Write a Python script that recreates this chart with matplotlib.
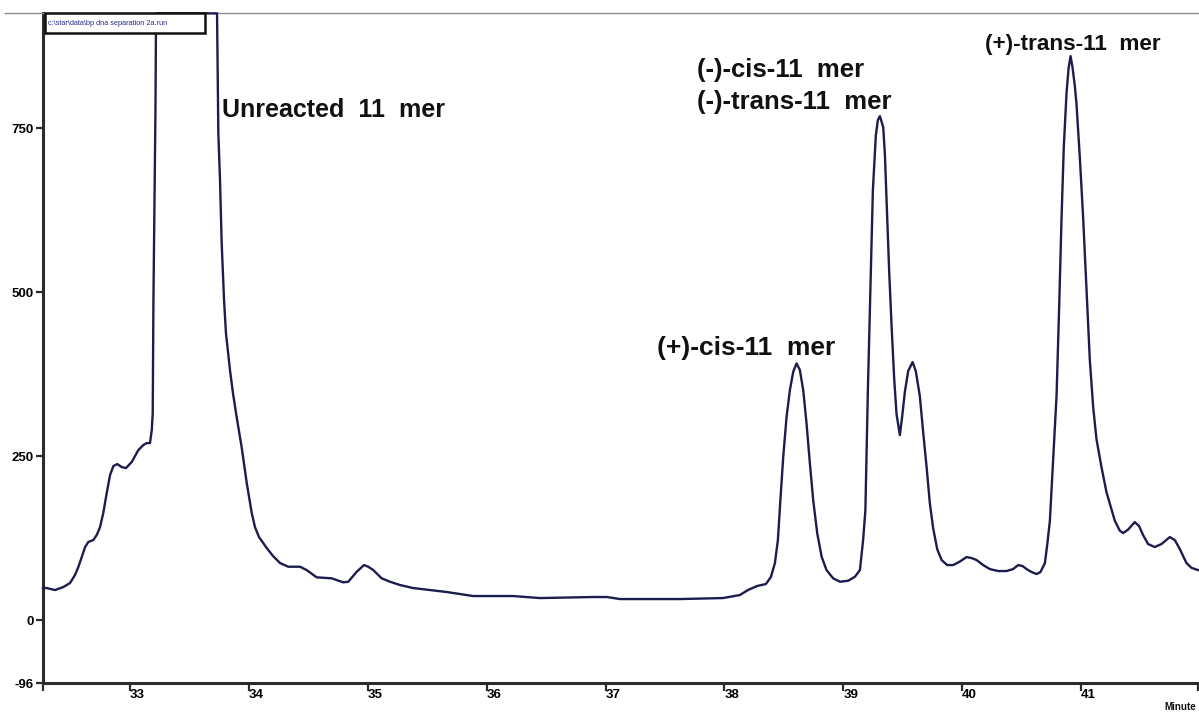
import matplotlib
matplotlib.use("Agg")
import numpy as np
from matplotlib import pyplot as plt
from matplotlib.patches import Rectangle
from matplotlib.lines import Line2D

plt.rcParams['font.family'] = ['Liberation Sans', 'DejaVu Sans']

# chromatogram trace (minutes, detector response)
# the big peak at 33.2-33.7 is off scale, it sits on the top border
minutes = [32.268, 32.299, 32.369, 32.439, 32.495, 32.537, 32.565, 32.594, 32.622, 32.649,
           32.691, 32.720, 32.748, 32.775, 32.804, 32.832, 32.860, 32.893, 32.930, 32.966,
           33.014, 33.070, 33.112, 33.140, 33.168, 33.183, 33.191, 33.193, 33.197, 33.214,
           33.219, 33.732, 33.743, 33.757, 33.771, 33.791, 33.807, 33.841, 33.866, 33.897,
           33.939, 33.982, 34.024, 34.051, 34.085, 34.150, 34.203, 34.262, 34.331, 34.430,
           34.486, 34.570, 34.696, 34.738, 34.794, 34.836, 34.907, 34.968, 35.004, 35.046,
           35.117, 35.187, 35.271, 35.380, 35.523, 35.666, 35.885, 36.221, 36.448, 36.894,
           37.012, 37.121, 37.626, 37.987, 38.130, 38.198, 38.273, 38.349, 38.391, 38.425,
           38.450, 38.471, 38.495, 38.523, 38.551, 38.579, 38.607, 38.635, 38.663, 38.691,
           38.719, 38.747, 38.781, 38.818, 38.859, 38.915, 38.972, 39.041, 39.098, 39.140,
           39.167, 39.186, 39.207, 39.228, 39.249, 39.274, 39.291, 39.308, 39.336, 39.350,
           39.364, 39.386, 39.406, 39.428, 39.448, 39.476, 39.495, 39.518, 39.546, 39.583,
           39.610, 39.644, 39.672, 39.701, 39.728, 39.756, 39.790, 39.827, 39.874, 39.924,
           39.981, 40.037, 40.079, 40.121, 40.177, 40.233, 40.303, 40.373, 40.429, 40.471,
           40.508, 40.542, 40.584, 40.626, 40.659, 40.696, 40.715, 40.738, 40.765, 40.794,
           40.816, 40.836, 40.855, 40.878, 40.895, 40.912, 40.928, 40.948, 40.962, 40.990,
           41.018, 41.046, 41.074, 41.102, 41.130, 41.172, 41.214, 41.284, 41.326, 41.354,
           41.396, 41.452, 41.488, 41.522, 41.564, 41.620, 41.677, 41.747, 41.789, 41.831,
           41.887, 41.929, 41.984]
response = [48.8, 48.8, 45.7, 50.3, 56.4, 68.6, 80.8, 96.0, 111.3, 118.9,
            122.0, 129.6, 141.8, 163.1, 193.6, 221.0, 234.8, 237.8, 233.2, 231.7,
            240.9, 259.1, 266.8, 269.8, 269.8, 289.6, 315.5, 366.0, 488.0, 777.0,
            925.0, 925.0, 742.0, 670.7, 574.7, 487.8, 437.5, 381.1, 346.0, 309.5,
            263.7, 208.8, 163.1, 141.8, 126.5, 109.8, 97.6, 86.9, 81.3, 81.3,
            76.2, 65.1, 63.6, 61.0, 57.5, 58.4, 73.6, 83.8, 81.3, 76.2,
            63.6, 58.4, 53.4, 48.8, 45.7, 42.7, 36.6, 36.6, 33.5, 35.1,
            35.1, 32.0, 32.0, 33.5, 38.1, 45.7, 51.8, 54.9, 65.5, 86.9,
            122.0, 182.9, 248.9, 309.9, 350.6, 378.5, 391.3, 381.1, 350.6, 299.8,
            238.9, 182.9, 132.2, 96.5, 76.2, 63.6, 58.4, 59.9, 66.0, 76.2,
            122.0, 167.7, 350.6, 502.3, 655.5, 739.3, 762.2, 768.3, 751.5, 710.4,
            640.2, 532.0, 449.7, 368.9, 314.0, 282.0, 309.5, 347.6, 379.6, 393.3,
            379.6, 341.5, 286.6, 233.2, 178.4, 140.2, 108.2, 91.5, 83.8, 83.8,
            89.2, 96.0, 94.5, 91.5, 83.8, 77.7, 74.7, 74.7, 77.7, 83.8,
            82.3, 77.7, 73.2, 70.1, 73.2, 86.9, 113.6, 151.5, 243.9, 341.5,
            477.1, 612.8, 721.0, 803.4, 840.9, 859.8, 843.4, 814.0, 786.6, 705.0,
            612.8, 504.6, 396.3, 325.0, 275.9, 233.2, 195.1, 151.5, 136.3, 132.6,
            137.9, 149.4, 143.3, 129.6, 115.9, 111.3, 115.9, 126.5, 121.9, 108.2,
            86.9, 79.6, 76.2]

x_ticks = [33, 34, 35, 36, 37, 38, 39, 40, 41]
y_ticks = [-96, 0, 250, 500, 750]
x_range = (32.268, 41.984)
y_range = (-96, 926)

peak_labels = ["Unreacted  11  mer", "(-)-cis-11  mer", "(-)-trans-11  mer",
               "(+)-trans-11  mer", "(+)-cis-11  mer"]
label_pos = [(33.774, 777), (37.769, 838), (37.769, 790), (40.191, 878), (37.432, 415)]
label_size = [18, 18.5, 18.5, 16.2, 19]

fig = plt.figure(figsize=(11.99, 7.13), dpi=100)
ax = fig.add_axes([43 / 1199, 1 - 683 / 713, 1155 / 1199, (683 - 12.7) / 713])

ax.plot(minutes, response, color='#1c1c4e', lw=1.7, solid_joinstyle='round', clip_on=False, zorder=3)
ax.set_xlim(*x_range)
ax.set_ylim(*y_range)

ax.spines['right'].set_visible(False)
ax.spines['top'].set_color('#8a8a8a')
ax.spines['top'].set_linewidth(1.0)
for s in ['left', 'bottom']:
    ax.spines[s].set_color('#2b2b2b')
    ax.spines[s].set_linewidth(2.2)

ax.set_xticks([x_range[0]] + x_ticks + [x_range[1]])
ax.set_xticklabels([''] + [str(t) for t in x_ticks] + [''])
ax.set_yticks(y_ticks)
ax.set_yticklabels([str(t) for t in y_ticks])
ax.tick_params(axis='x', direction='out', length=5.5, width=1.6, color='#2b2b2b', pad=-1.5,
               labelsize=9.5)
ax.tick_params(axis='y', direction='out', length=5, width=1.6, color='#2b2b2b', pad=1.5,
               labelsize=9.5)
for lbl in ax.get_xticklabels():
    lbl.set_horizontalalignment('left')
    lbl.set_fontweight('bold')
for lbl in ax.get_yticklabels():
    lbl.set_fontweight('bold')

for txt, (tx, ty), fs in zip(peak_labels, label_pos, label_size):
    ax.text(tx, ty, txt, fontsize=fs, fontweight='bold', ha='left', va='center', color='#111111')

# top border continues left of the axis
fig.add_artist(Line2D([0.004, 43 / 1199], [1 - 12.7 / 713] * 2, color='#8a8a8a', lw=1.0))

# file name box
box = Rectangle((45 / 1199, 1 - 33 / 713), 160 / 1199, 20 / 713, transform=fig.transFigure,
                facecolor='white', edgecolor='#111111', lw=1.8, zorder=10)
fig.add_artist(box)
fig.text(48 / 1199, 1 - 23.5 / 713, r"c:\star\data\bp dna separation 2a.run", fontsize=5.3,
         color='#2a2a8a', ha='left', va='center', zorder=11)

fig.text(1164 / 1199, 1 - 707 / 713, "Minute", fontsize=7, fontweight='bold', ha='left',
         va='center', color='#111111')

fig.savefig("out.png", dpi=100)
